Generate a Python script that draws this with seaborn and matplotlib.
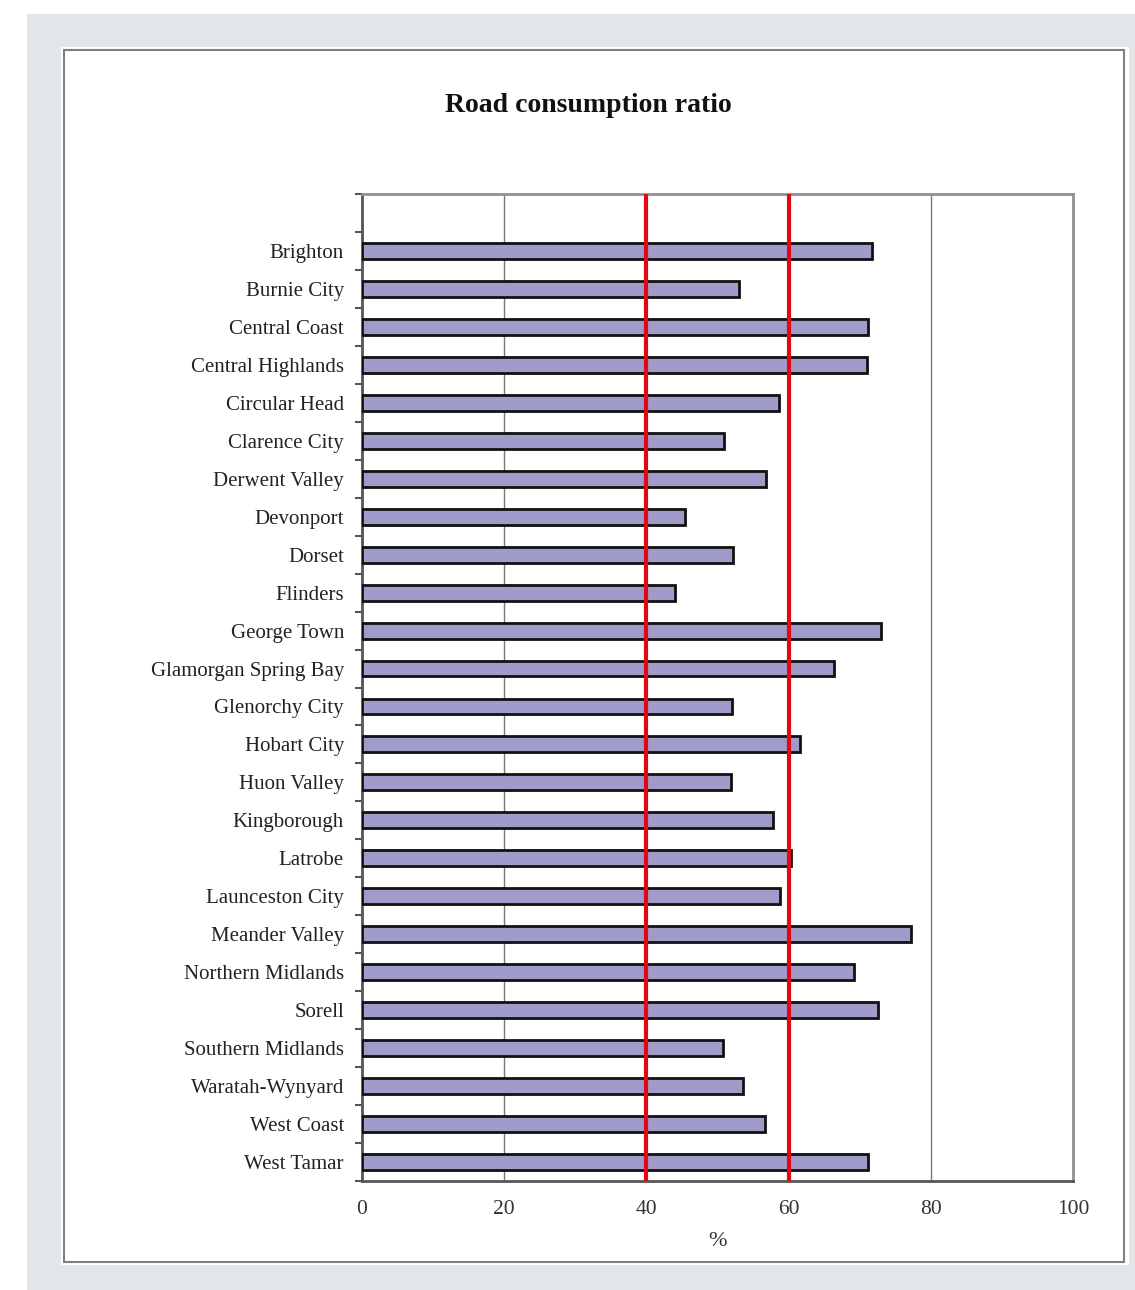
import matplotlib
matplotlib.use("Agg")
import matplotlib.pyplot as plt
import seaborn as sns
import pandas as pd
from matplotlib.patches import Rectangle
from matplotlib.ticker import FixedLocator

councils = ["Brighton", "Burnie City", "Central Coast", "Central Highlands",
            "Circular Head", "Clarence City", "Derwent Valley", "Devonport",
            "Dorset", "Flinders", "George Town", "Glamorgan Spring Bay",
            "Glenorchy City", "Hobart City", "Huon Valley", "Kingborough",
            "Latrobe", "Launceston City", "Meander Valley", "Northern Midlands",
            "Sorell", "Southern Midlands", "Waratah-Wynyard", "West Coast",
            "West Tamar"]
ratio = [71.7, 53.0, 71.2, 71.0, 58.6, 50.9, 56.8, 45.4, 52.2, 44.0,
         73.0, 66.4, 52.0, 61.6, 51.9, 57.8, 60.3, 58.8, 77.2, 69.2,
         72.6, 50.8, 53.6, 56.7, 71.2]
ref_lines = [40, 60]
x_ticks = [0, 20, 40, 60, 80, 100]

df = pd.DataFrame({"council": councils, "ratio": ratio})

sns.set_theme(style="white")
plt.rcParams["font.family"] = ["Liberation Serif", "DejaVu Serif"]

W, H = 1135, 1290
fig = plt.figure(figsize=(W / 100, H / 100), dpi=100)
fig.patch.set_facecolor("white")

# page background + framed panel
fig.add_artist(Rectangle((27 / W, 0), 1 - 27 / W, 1 - 14 / H,
                         transform=fig.transFigure, facecolor="#e2e6e9",
                         edgecolor="none", zorder=-3))
fig.add_artist(Rectangle((61 / W, 1 - 1265 / H), 1068 / W, 1218 / H,
                         transform=fig.transFigure, facecolor="white",
                         edgecolor="none", zorder=-2))
fig.add_artist(Rectangle((64 / W, 1 - 1262 / H), 1060 / W, 1212 / H,
                         transform=fig.transFigure, facecolor="none",
                         edgecolor="#808080", linewidth=1.5, zorder=-1))

ax = fig.add_axes([362 / W, 1 - 1181 / H, 711 / W, 987 / H])

sns.barplot(data=df, x="ratio", y="council", orient="h", color="#9f9cc9",
            saturation=1, edgecolor="#111111", linewidth=2, width=0.42,
            ax=ax, zorder=3)

for v in [20, 40, 60, 80]:
    ax.axvline(v, color="#777777", linewidth=1, zorder=1)
for v in ref_lines:
    ax.axvline(v, color="#e30613", linewidth=3, zorder=4)

ax.set_xlim(0, 100)
ax.set_ylim(len(councils) - 0.5, -1.5)
ax.set_xticks(x_ticks)
ax.set_xticklabels([str(t) for t in x_ticks], fontsize=15.5, color="#333333")
ax.tick_params(axis="x", direction="out", length=5, width=1.5,
               color="#555555", pad=9)
ax.tick_params(axis="y", which="major", length=0, pad=13, labelsize=15,
               labelcolor="#222222")
ax.yaxis.set_minor_locator(FixedLocator([i - 0.5 for i in range(-1, len(councils) + 1)]))
ax.tick_params(axis="y", which="minor", direction="out", length=5, width=1.5,
               color="#555555", left=True)

ax.set_xlabel("%", fontsize=16, color="#333333", labelpad=9)
ax.set_ylabel("")

for side in ["left", "bottom"]:
    ax.spines[side].set_color("#555555")
    ax.spines[side].set_linewidth(2)
for side in ["top", "right"]:
    ax.spines[side].set_color("#909090")
    ax.spines[side].set_linewidth(2)
    ax.spines[side].set_visible(True)

fig.text(588 / W, 1 - 105 / H, "Road consumption ratio", ha="center",
         va="center", fontsize=20, fontweight="bold", color="#111111")

fig.savefig("out.png", dpi=100)
